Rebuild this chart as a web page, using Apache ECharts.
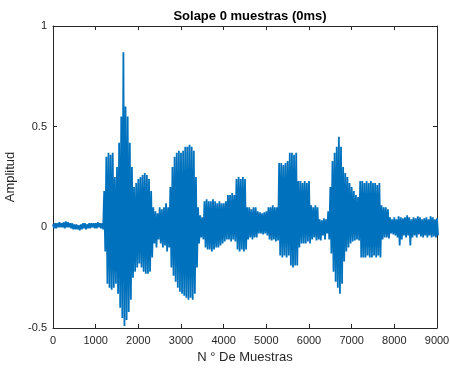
<!DOCTYPE html>
<html>
<head>
<meta charset="utf-8">
<script src="https://cdn.jsdelivr.net/npm/echarts@6/dist/echarts.min.js"></script>
<style>
  html, body { margin: 0; padding: 0; background: #fff; }
  #chart { width: 450px; height: 369px; }
</style>
</head>
<body>
<div id="chart"></div>
<script>
// envolvente, un par (pico, valle) cada 50 muestras, de 0 a 9000
var paso = 50;
var picos = [
  0.015,0.02,0.02,0.025,0.02,0.025,0.03,0.025,0.02,0.02,0.015,0.015,0.01,0.015,0.02,0.02,0.015,0.02,0.02,0.02,0.02,0.025,0.02,0.02,
  0.18,0.35,0.37,0.36,0.37,0.25,0.30,0.42,0.55,0.87,0.60,0.55,0.42,0.30,0.20,0.22,0.24,0.25,0.26,0.27,0.26,0.24,0.18,0.10,0.08,0.07,0.10,
  0.09,0.10,0.12,0.10,0.20,0.30,0.35,0.37,0.38,0.37,0.38,0.40,0.40,0.41,0.40,0.38,0.25,0.10,0.06,0.05,
  0.13,0.14,0.13,0.13,0.14,0.13,0.12,0.13,0.12,0.12,0.13,0.16,0.16,0.17,0.16,0.24,0.25,0.24,0.25,0.24,
  0.10,0.10,0.09,0.10,0.10,0.08,0.075,0.07,0.075,0.08,0.10,0.10,0.11,0.10,0.10,0.32,0.32,0.31,0.32,0.33,
  0.37,0.37,0.36,0.37,0.23,0.23,0.22,0.23,0.22,0.23,0.11,0.10,0.11,0.10,0.04,0.035,0.045,0.04,0.08,0.20,
  0.33,0.37,0.40,0.45,0.40,0.30,0.27,0.25,0.22,0.20,0.18,0.16,0.15,0.23,0.23,0.22,0.23,0.22,0.23,0.22,
  0.22,0.21,0.22,0.11,0.10,0.10,0.09,0.05,0.04,0.05,0.04,0.055,0.05,0.045,0.05,0.06,0.05,0.04,0.05,0.045,
  0.055,0.05,0.04,0.045,0.05,0.04,0.055,0.05,0.04,0.045
];
var valles = [
  -0.005,-0.005,0,0,0,-0.005,0,0,-0.005,-0.01,-0.01,-0.01,-0.015,-0.01,-0.005,-0.01,-0.005,-0.005,0,-0.005,-0.005,0,-0.005,-0.01,
  -0.12,-0.28,-0.30,-0.31,-0.30,-0.28,-0.33,-0.40,-0.45,-0.49,-0.46,-0.42,-0.36,-0.25,-0.22,-0.20,-0.18,-0.20,-0.22,-0.23,-0.23,-0.22,-0.15,-0.08,-0.10,-0.06,-0.08,
  -0.10,-0.09,-0.12,-0.10,-0.20,-0.24,-0.27,-0.30,-0.32,-0.33,-0.34,-0.35,-0.36,-0.35,-0.36,-0.33,-0.20,-0.08,-0.05,-0.06,
  -0.10,-0.11,-0.11,-0.12,-0.11,-0.10,-0.10,-0.09,-0.08,-0.07,-0.06,-0.06,-0.07,-0.06,-0.07,-0.11,-0.12,-0.11,-0.12,-0.11,
  -0.06,-0.05,-0.06,-0.05,-0.05,-0.03,-0.03,-0.035,-0.03,-0.04,-0.06,-0.065,-0.06,-0.07,-0.065,-0.14,-0.15,-0.14,-0.15,-0.14,
  -0.19,-0.20,-0.19,-0.19,-0.10,-0.08,-0.08,-0.08,-0.07,-0.08,-0.06,-0.05,-0.065,-0.06,-0.065,-0.04,-0.06,-0.03,-0.06,-0.13,
  -0.22,-0.27,-0.30,-0.33,-0.28,-0.17,-0.12,-0.10,-0.08,-0.07,-0.065,-0.06,-0.065,-0.15,-0.15,-0.15,-0.14,-0.15,-0.15,-0.14,
  -0.15,-0.14,-0.15,-0.06,-0.05,-0.05,-0.055,-0.03,-0.035,-0.04,-0.05,-0.09,-0.06,-0.04,-0.05,-0.04,-0.09,-0.05,-0.04,-0.05,
  -0.035,-0.045,-0.05,-0.04,-0.05,-0.04,-0.05,-0.045,-0.05,-0.04
];
var ticksX = [0, 9000, 1000];
var ticksY = [-0.5, 1, 0.5];

// senal en zigzag: pico y valle alternados
var senal = [];
for (var i = 0; i < picos.length; i++) {
  senal.push([i * paso, picos[i]]);
  senal.push([i * paso + paso / 2, valles[i]]);
}

var fuente = 'Liberation Sans';
var gris = '#262626';
var ejeLinea = { show: true, onZero: false, lineStyle: { color: gris, width: 1 } };
var marca = { show: true, inside: true, length: 4, lineStyle: { color: gris } };

var chart = echarts.init(document.getElementById('chart'));
chart.setOption({
  animation: false,
  backgroundColor: '#fff',
  title: {
    text: 'Solape 0 muestras (0ms)',
    left: 245,
    textAlign: 'center',
    top: 5,
    textStyle: { fontFamily: fuente, fontSize: 13, fontWeight: 'bold', color: '#000' }
  },
  grid: { left: 53, right: 13, top: 26, bottom: 41, containLabel: false, outerBoundsMode: 'none' },
  xAxis: [{
    type: 'value',
    min: ticksX[0], max: ticksX[1], interval: ticksX[2],
    axisLine: ejeLinea,
    axisTick: marca,
    splitLine: { show: false },
    axisLabel: {
      fontFamily: fuente, fontSize: 11, color: gris, margin: 7,
      formatter: function (v) { return String(v); }
    },
    name: 'N ° De Muestras',
    nameLocation: 'middle',
    nameGap: 21,
    nameTextStyle: { fontFamily: fuente, fontSize: 13, color: gris }
  }, {
    type: 'value', position: 'top',
    min: ticksX[0], max: ticksX[1], interval: ticksX[2],
    axisLine: ejeLinea, axisTick: marca,
    axisLabel: { show: false }, splitLine: { show: false }
  }],
  yAxis: [{
    type: 'value',
    min: ticksY[0], max: ticksY[1], interval: ticksY[2],
    axisLine: ejeLinea,
    axisTick: marca,
    splitLine: { show: false },
    axisLabel: {
      fontFamily: fuente, fontSize: 11, color: gris, margin: 6,
      formatter: function (v) { return String(v); }
    },
    name: 'Amplitud',
    nameLocation: 'middle',
    nameGap: 23,
    nameTextStyle: { fontFamily: fuente, fontSize: 13, color: gris }
  }, {
    type: 'value', position: 'right',
    min: ticksY[0], max: ticksY[1], interval: ticksY[2],
    axisLine: ejeLinea, axisTick: marca,
    axisLabel: { show: false }, splitLine: { show: false }
  }],
  series: [{
    type: 'line',
    data: senal,
    showSymbol: false,
    sampling: 'none',
    lineStyle: { color: '#0072BD', width: 1.8 }
  }]
});
</script>
</body>
</html>
